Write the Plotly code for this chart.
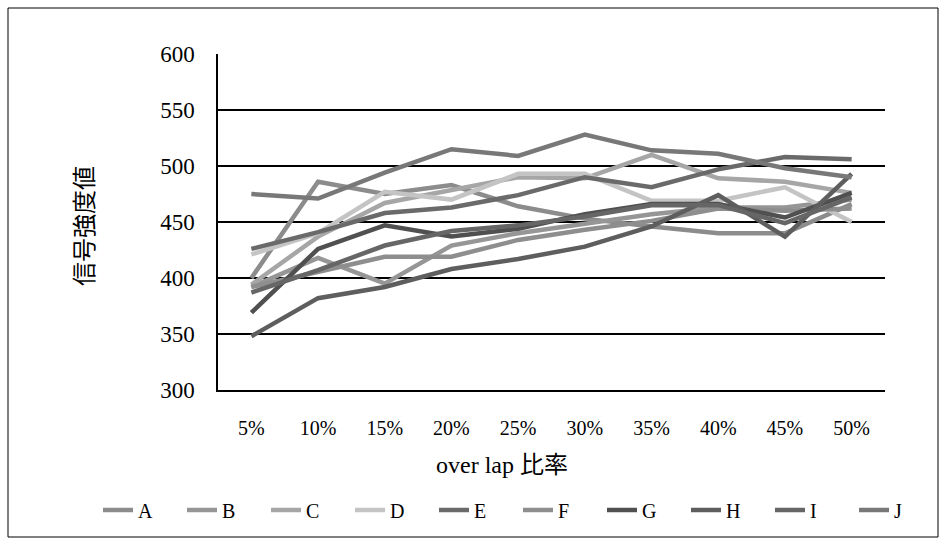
import plotly.graph_objects as go

categories = ["5%", "10%", "15%", "20%", "25%", "30%", "35%", "40%", "45%", "50%"]
series_names = ["A", "B", "C", "D", "E", "F", "G", "H", "I", "J"]
A = [400, 486, 475, 483, 464, 453, 446, 440, 440, 466]
B = [392, 418, 395, 429, 440, 449, 457, 463, 463, 470]
C = [394, 437, 467, 478, 490, 489, 510, 489, 486, 476]
D = [421, 440, 477, 470, 493, 493, 469, 469, 481, 450]
E = [426, 441, 458, 463, 474, 490, 481, 497, 508, 506]
F = [392, 405, 419, 419, 434, 443, 451, 462, 460, 462]
G = [369, 426, 447, 437, 444, 457, 466, 466, 454, 476]
H = [348, 382, 392, 408, 417, 428, 446, 474, 437, 493]
I = [387, 407, 429, 442, 447, 455, 465, 465, 449, 472]
J = [475, 471, 494, 515, 509, 528, 514, 511, 498, 490]
series_values = [A, B, C, D, E, F, G, H, I, J]
colors = ["#8c8c8c", "#969696", "#a6a6a6", "#c4c4c4", "#6a6a6a",
          "#8e8e8e", "#505050", "#5e5e5e", "#666666", "#787878"]
y_ticks = [300, 350, 400, 450, 500, 550, 600]

FONT = "Liberation Serif, DejaVu Serif, Noto Sans CJK JP, serif"

fig = go.Figure()
for i, (name, vals, col) in enumerate(zip(series_names, series_values, colors)):
    fig.add_trace(go.Scatter(x=categories, y=vals, name=name, mode="lines",
                             line=dict(color=col, width=4.5),
                             legend="legend" if i < 5 else "legend2"))

W, H_ = 946, 544
L, R, T, Bm = 218, 61, 54, 154
pw, ph = W - L - R, H_ - T - Bm

def px(xp):
    return (xp - L) / pw

def py(yp):
    return (H_ - Bm - yp) / ph

leg_common = dict(orientation="h", yanchor="middle", y=py(510), xanchor="left",
                  font=dict(size=20, family=FONT), entrywidth=39,
                  entrywidthmode="pixels", itemwidth=30, traceorder="normal",
                  bgcolor="rgba(0,0,0,0)", borderwidth=0)

fig.update_layout(
    width=W, height=H_,
    margin=dict(l=L, r=R, t=T, b=Bm, pad=0, autoexpand=False),
    paper_bgcolor="white", plot_bgcolor="white",
    font=dict(family=FONT, size=20, color="black"),
    showlegend=True,
    legend=dict(x=px(98), **leg_common),
    legend2=dict(x=px(518), **leg_common),
    xaxis=dict(type="category", range=[-0.5, 9.5], showgrid=False, showline=True,
               linecolor="black", linewidth=1.5, ticks="", ticklabelstandoff=19,
               tickfont=dict(size=20, family=FONT), zeroline=False, automargin=False),
    yaxis=dict(range=[300, 600], tickvals=y_ticks, showgrid=True, gridcolor="black",
               gridwidth=1.5, showline=True, linecolor="black", linewidth=1.5,
               ticks="", ticklabelstandoff=17, tickfont=dict(size=23, family=FONT),
               zeroline=False, automargin=False),
    shapes=[dict(type="rect", xref="paper", yref="paper",
                 x0=px(8), x1=px(938), y0=py(537), y1=py(8),
                 line=dict(color="black", width=1), fillcolor="rgba(0,0,0,0)", layer="below")],
    annotations=[
        dict(text="over lap 比率", xref="paper", yref="paper", x=px(502), y=py(465),
             showarrow=False, xanchor="center", yanchor="middle",
             font=dict(size=24, family=FONT)),
        dict(text="信号強度値", xref="paper", yref="paper", x=px(85), y=py(226),
             showarrow=False, textangle=-90, xanchor="center", yanchor="middle",
             font=dict(size=24, family=FONT)),
    ],
)

fig.write_html("out.html")
